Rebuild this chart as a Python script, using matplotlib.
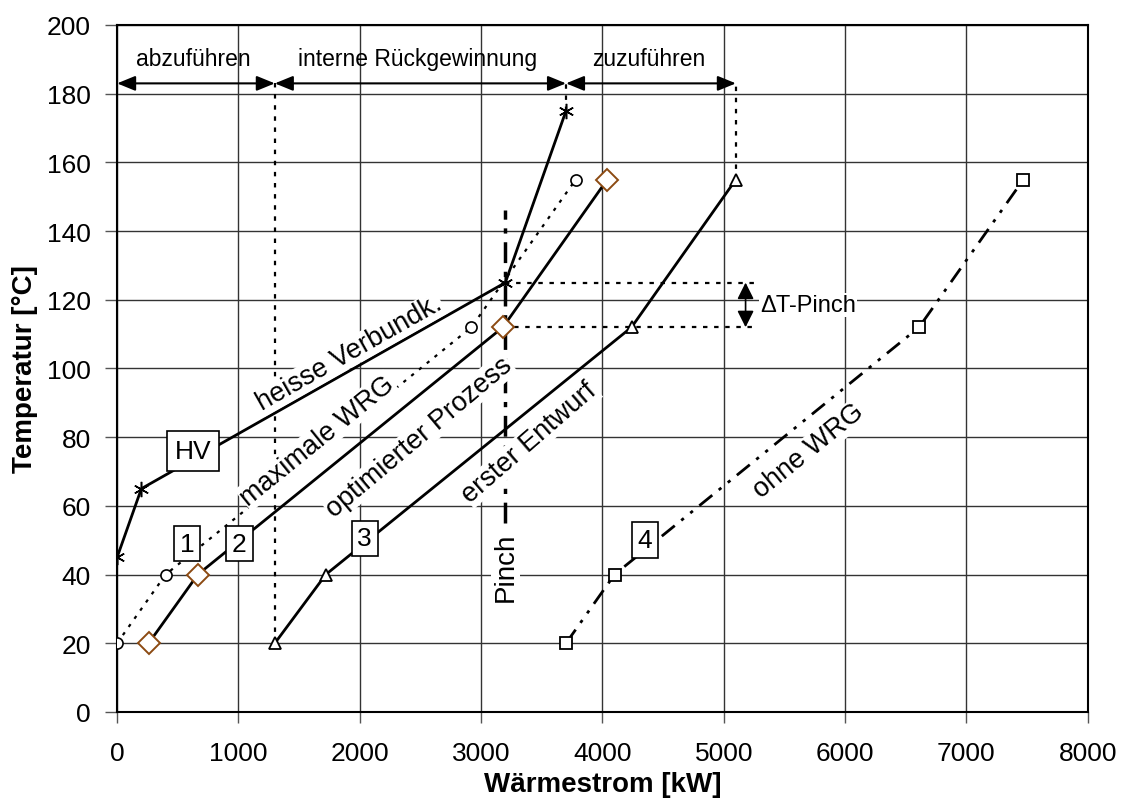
import matplotlib
matplotlib.use("Agg")
import matplotlib.pyplot as plt

plt.rcParams['font.family'] = ['Liberation Sans', 'DejaVu Sans']

# heisse Verbundkurve (HV)
hv_q = [0, 200, 3200, 3700]
hv_t = [45, 65, 125, 175]
# 1: maximale WRG
wrg_q = [0, 400, 2920, 3780]
wrg_t = [20, 40, 112, 155]
# 2: optimierter Prozess
opt_q = [260, 665, 3180, 4040]
opt_t = [20, 40, 112, 155]
# 3: erster Entwurf
ent_q = [1300, 1720, 4240, 5100]
ent_t = [20, 40, 112, 155]
# 4: ohne WRG
ohne_q = [3700, 4100, 6610, 7470]
ohne_t = [20, 40, 112, 155]

pinch_q = 3200
pinch_hot = 125
pinch_cold = 112
bound_q = [0, 1300, 3700, 5100]
bound_low = [None, 20, 175, 155]
bound_t = 183
bound_names = ["abzuführen", "interne Rückgewinnung", "zuzuführen"]

fig, ax = plt.subplots(figsize=(11.26, 8.12), dpi=100)
fig.subplots_adjust(left=0.104, right=0.966, bottom=0.122, top=0.968)

dotted = (0, (2, 3))

ax.plot(hv_q, hv_t, color="black", lw=2, marker=(6, 2, 0), ms=11, mew=1.1, zorder=3)
ax.plot(wrg_q, wrg_t, color="black", lw=1.6, ls=(0, (1.5, 3)), marker="o",
        ms=8, mfc="white", mec="black", mew=1.2, zorder=3)
ax.plot(opt_q, opt_t, color="black", lw=2, marker="D", ms=11,
        mfc="white", mec="#8c4a12", mew=1.4, zorder=3)
ax.plot(ent_q, ent_t, color="black", lw=2, marker="^", ms=9,
        mfc="white", mec="black", mew=1.3, zorder=3)
ax.plot(ohne_q, ohne_t, color="black", lw=2, ls=(0, (6, 3, 1.2, 3, 1.2, 3)),
        marker="s", ms=8, mfc="white", mec="black", mew=1.3, zorder=3)

# Bereichsgrenzen oben
for q, low in zip(bound_q, bound_low):
    if low is not None:
        ax.plot([q, q], [low, bound_t], color="black", lw=1.6, ls=dotted, zorder=2)
for i, name in enumerate(bound_names):
    ax.annotate("", xy=(bound_q[i], bound_t), xytext=(bound_q[i + 1], bound_t),
                arrowprops=dict(arrowstyle="<|-|>,head_length=1.1,head_width=0.45",
                                color="black", lw=1.5, shrinkA=0, shrinkB=0), zorder=4)
    ax.text((bound_q[i] + bound_q[i + 1]) / 2 - 20, 190.3, name, ha="center", va="center",
            fontsize=16.5, zorder=4)

# Pinch
ax.plot([pinch_q, pinch_q], [55, 146], color="black", lw=2.5,
        ls=(0, (6, 2.5, 1.5, 2.5)), zorder=2)
ax.text(pinch_q, 42.5, "Pinch", rotation=90, ha="center", va="center", fontsize=20,
        bbox=dict(facecolor="white", edgecolor="none", pad=1), zorder=5)
ax.plot([pinch_q, 5250], [pinch_hot, pinch_hot], color="black", lw=1.6, ls=dotted, zorder=2)
ax.plot([opt_q[2], 5250], [pinch_cold, pinch_cold], color="black", lw=1.6, ls=dotted, zorder=2)
ax.annotate("", xy=(5180, pinch_hot), xytext=(5180, pinch_cold),
            arrowprops=dict(arrowstyle="<|-|>,head_length=1.0,head_width=0.5",
                            color="black", lw=1.2, shrinkA=0, shrinkB=0), zorder=4)
ax.text(5300, 118.5, "ΔT-Pinch", ha="left", va="center", fontsize=17,
        bbox=dict(facecolor="white", edgecolor="none", pad=1), zorder=5)

# Kurvenbeschriftungen
white = dict(facecolor="white", edgecolor="none", pad=0.5)
fs = 19.5
ax.text(1915, 104.5, "heisse Verbundk.", rotation=29.5, rotation_mode="anchor",
        ha="center", va="center", fontsize=fs, bbox=white, zorder=5)
ax.text(1650, 79, "maximale WRG", rotation=39, rotation_mode="anchor",
        ha="center", va="center", fontsize=fs, bbox=white, zorder=5)
ax.text(2490, 80, "optimierter Prozess", rotation=40, rotation_mode="anchor",
        ha="center", va="center", fontsize=fs, bbox=white, zorder=5)
ax.text(3400, 78.5, "erster Entwurf", rotation=41, rotation_mode="anchor",
        ha="center", va="center", fontsize=fs, bbox=white, zorder=5)
ax.text(5700, 76, "ohne WRG", rotation=39, rotation_mode="anchor",
        ha="center", va="center", fontsize=fs, bbox=white, zorder=5)

for q, t, s, p in [(625, 76, "HV", 0.3), (575, 49, "1", 0.22), (1008, 49, "2", 0.22),
                   (2041, 50.5, "3", 0.22), (4350, 50, "4", 0.22)]:
    ax.text(q, t, s, ha="center", va="center", fontsize=19, zorder=6,
            bbox=dict(facecolor="white", edgecolor="black", lw=1.2,
                      boxstyle="square,pad=%s" % p))

ax.set_xlim(0, 8000)
ax.set_ylim(0, 200)
ax.set_xticks(range(0, 8001, 1000))
ax.set_yticks(range(0, 201, 20))
ax.grid(True, color="#333333", lw=1)
ax.set_axisbelow(True)
ax.tick_params(axis="x", labelsize=19, direction="out", length=8, width=1,
               color="#555555", pad=13)
ax.tick_params(axis="y", labelsize=19, direction="out", length=9, width=1,
               color="#555555", pad=10)
for sp in ax.spines.values():
    sp.set_linewidth(1.5)
ax.set_xlabel("Wärmestrom [kW]", fontsize=20, fontweight="bold", labelpad=4)
ax.set_ylabel("Temperatur [°C]", fontsize=20, fontweight="bold", labelpad=6)

fig.savefig("out.png", dpi=100)
